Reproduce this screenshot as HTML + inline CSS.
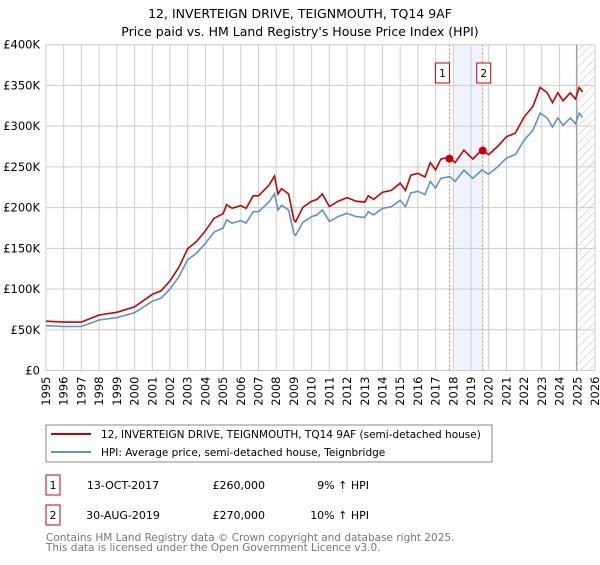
<!DOCTYPE html>
<html><head><meta charset="utf-8"><style>
body{margin:0;width:600px;height:560px;background:#fff;font-family:"Liberation Sans","DejaVu Sans",sans-serif;overflow:hidden}
svg text{font-family:"DejaVu Sans","Liberation Sans",sans-serif}
</style></head><body>
<svg id="c" width="600" height="560">
<defs><pattern id="hatch" width="6" height="6" patternUnits="userSpaceOnUse" patternTransform="rotate(45)"><line x1="0" y1="0" x2="0" y2="6" stroke="#bbb" stroke-width="1"/></pattern></defs>
<text x="300" y="18" text-anchor="middle" font-size="12.5">12, INVERTEIGN DRIVE, TEIGNMOUTH, TQ14 9AF</text>
<text x="300" y="36" text-anchor="middle" font-size="12.5">Price paid vs. HM Land Registry's House Price Index (HPI)</text>
<g id="grid"></g><g id="marks"></g><g id="axes"></g>
<rect x="46" y="425" width="446" height="37" fill="#fff" stroke="#888"/>
<line x1="51" y1="434" x2="91" y2="434" stroke="#cc0000" stroke-width="2"/>
<text x="101" y="438" font-size="10.5">12, INVERTEIGN DRIVE, TEIGNMOUTH, TQ14 9AF (semi-detached house)</text>
<line x1="51" y1="452" x2="91" y2="452" stroke="#6090d0" stroke-width="2"/>
<text x="101" y="456" font-size="10.5">HPI: Average price, semi-detached house, Teignbridge</text>
<rect x="46" y="475" width="14" height="20" fill="#fff" stroke="#cc0000"/>
<text x="53" y="489" font-size="11" text-anchor="middle">1</text>
<text x="123" y="489" font-size="11" text-anchor="middle">13-OCT-2017</text>
<text x="265" y="489" font-size="11" text-anchor="end">£260,000</text>
<text x="369" y="489" font-size="11" text-anchor="end">9% ↑ HPI</text>
<rect x="46" y="505" width="14" height="20" fill="#fff" stroke="#cc0000"/>
<text x="53" y="519" font-size="11" text-anchor="middle">2</text>
<text x="123" y="519" font-size="11" text-anchor="middle">30-AUG-2019</text>
<text x="265" y="519" font-size="11" text-anchor="end">£270,000</text>
<text x="369" y="519" font-size="11" text-anchor="end">10% ↑ HPI</text>
<text x="46" y="541" font-size="10.5" fill="#777">Contains HM Land Registry data © Crown copyright and database right 2025.</text>
<text x="46" y="551" font-size="10.5" fill="#777">This data is licensed under the Open Government Licence v3.0.</text>
</svg>
<script>
const years=[1995,1996,1997,1997.5,1998,1999,2000,2001,2001.5,2002,2002.5,2003,2003.5,2004,2004.5,2005,2005.2,2005.5,2006,2006.3,2006.7,2007,2007.3,2007.6,2007.9,2008.1,2008.3,2008.7,2009,2009.1,2009.5,2010,2010.3,2010.6,2011,2011.5,2012,2012.5,2013,2013.2,2013.5,2014,2014.5,2015,2015.3,2015.6,2016,2016.4,2016.7,2017,2017.3,2017.8,2018.1,2018.6,2019.1,2019.6,2020,2020.5,2021,2021.5,2022,2022.5,2022.9,2023.3,2023.6,2023.9,2024.2,2024.6,2024.9,2025.1,2025.3];
const hpi=[55,54,54,58,62,65,71,85,89,100,115,136,144,156,170,175,185,181,184,181,195,195,201,207,217,197,203,197,168,166,182,189,191,197,183,189,193,189,188,195,191,199,201,209,201,218,220,216,232,224,236,238,232,246,236,246,241,250,261,265,283,295,316,310,299,310,301,310,303,316,311];
const prop=[60.5,59.4,59.4,63.8,68.2,71.5,78.1,93.5,97.9,110,126.5,149.6,158.4,171.6,187,192.5,203.5,199.1,202.4,199.1,214.5,214.5,221.1,227.7,238.7,216.7,223.3,216.7,184.8,182.6,200.2,207.9,210.1,216.7,201.3,207.9,212.3,207.9,206.8,214.5,210.1,218.9,221.1,229.9,221.1,239.8,242,237.6,255.2,246.4,259.6,261.8,255.2,270.6,259.6,270.6,265.1,275,287.1,291.5,311.3,324.5,347.6,341,328.9,341,331.1,341,333.3,347.6,342.1];
const saleYears=[2017.78,2019.66];
const salePrices=[260,270];
const saleLabels=["1","2"];
const yTicks=[0,50,100,150,200,250,300,350,400];
const yTickLabels=["£0","£50K","£100K","£150K","£200K","£250K","£300K","£350K","£400K"];
const xTicks=[1995,1996,1997,1998,1999,2000,2001,2002,2003,2004,2005,2006,2007,2008,2009,2010,2011,2012,2013,2014,2015,2016,2017,2018,2019,2020,2021,2022,2023,2024,2025,2026];
const X=y=>46+(y-1995)*(595-46)/31, Y=v=>370.5-v*(370.5-44.7)/400;
const NS="http://www.w3.org/2000/svg";
function mk(p,t,a){const e=document.createElementNS(NS,t);for(const k in a)e.setAttribute(k,a[k]);p.appendChild(e);return e;}
const g=document.getElementById('grid'),m=document.getElementById('marks'),ax=document.getElementById('axes');
let r=mk(g,'rect',{x:X(2018),y:Y(400),width:X(saleYears[1])-X(2018),height:Y(0)-Y(400),fill:'#eef3fc'});


r=mk(g,'rect',{x:X(2025.05),y:Y(400),width:595-X(2025.05),height:Y(0)-Y(400),fill:'url(#hatch)'});


xTicks.forEach(t=>{const l=mk(g,'line',{x1:X(t),x2:X(t),y1:Y(0),y2:Y(400),stroke:'#ccc'});


const tx=mk(ax,'text',{x:0,y:0,transform:`translate(${X(t)+4},${Y(0)+6}) rotate(-90)`,'text-anchor':'end','font-size':'11.5'});tx.textContent=t;

});
yTicks.forEach((t,i)=>{const l=mk(g,'line',{x1:46,x2:595,y1:Y(t),y2:Y(t),stroke:'#ccc'});


const tx=mk(ax,'text',{x:40,y:Y(t)+4,'text-anchor':'end','font-size':'11.5'});tx.textContent=yTickLabels[i];

});
const vl=mk(g,'line',{x1:X(2024.95),x2:X(2024.95),y1:Y(0),y2:Y(400),stroke:'#999'});


saleYears.forEach((s,i)=>{const l=mk(g,'line',{x1:X(s),x2:X(s),y1:Y(0),y2:Y(400),stroke:'#f07070','stroke-dasharray':'2,2'});

});
const pts=a=>a.map((v,i)=>X(years[i]).toFixed(1)+','+Y(v).toFixed(1)).join(' ');
let p=mk(m,'polyline',{points:pts(hpi),fill:'none',stroke:'#6090d0','stroke-width':1.6});


p=mk(m,'polyline',{points:pts(prop),fill:'none',stroke:'#cc0000','stroke-width':1.6});


saleYears.forEach((s,i)=>{const c=mk(m,'circle',{cx:X(s),cy:Y(salePrices[i]),r:4,fill:'#cc0000'});


const b=mk(m,'rect',{x:X(s)-(i?6:14),y:63,width:14,height:20,fill:'#fff',stroke:'#cc0000'});


const t=mk(m,'text',{x:X(s)-(i?-1:7),y:77,'text-anchor':'middle','font-size':'10.5'});t.textContent=saleLabels[i];

});
</script>
</body></html>
